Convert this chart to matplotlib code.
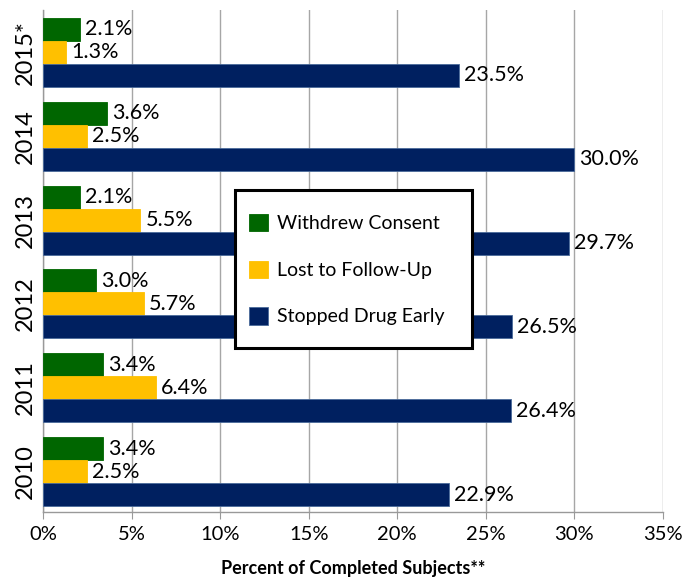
import matplotlib
matplotlib.use("Agg")
import matplotlib.pyplot as plt
import numpy as np
from matplotlib.ticker import FuncFormatter
from matplotlib.patches import Rectangle

years = ["2010", "2011", "2012", "2013", "2014", "2015*"]
withdrew = [3.4, 3.4, 3.0, 2.1, 3.6, 2.1]
lost = [2.5, 6.4, 5.7, 5.5, 2.5, 1.3]
stopped = [22.9, 26.4, 26.5, 29.7, 30.0, 23.5]
series_names = ["Withdrew Consent", "Lost to Follow-Up", "Stopped Drug Early"]
colors = ["#006600", "#FFC000", "#002060"]
xticks = [0, 5, 10, 15, 20, 25, 30, 35]

plt.rcParams['font.family'] = ['Lato', 'DejaVu Sans']

fig = plt.figure(figsize=(6.82, 5.81), dpi=100)
ax = fig.add_axes([43/682, 1-512/581, 620/682, 502/581])

y = np.arange(len(years))
h = 0.2745
offsets = [h, 0, -h]
vals = [withdrew, lost, stopped]
for s in range(3):
    bars = ax.barh(y + offsets[s], vals[s], height=h, color=colors[s],
                   edgecolor=colors[s] if s < 2 else "#4a6a9a", linewidth=0.6,
                   label=series_names[s], zorder=3)
    for b, v in zip(bars, vals[s]):
        ax.text(b.get_width() + 0.28, b.get_y() + b.get_height()/2, f"{v:.1f}%",
                va='center', ha='left', fontsize=15.5, zorder=4)

ax.set_xlim(0, 35)
ax.set_ylim(-0.483, 5.507)
ax.set_xticks(xticks)
ax.xaxis.set_major_formatter(FuncFormatter(lambda v, p: f"{v:.0f}%"))
ax.set_yticks(y)
ax.set_yticklabels(years, rotation=90, va='center', fontsize=17)
ax.tick_params(axis='x', labelsize=14.5, length=5, color='#999999', pad=5)
ax.tick_params(axis='y', length=0, pad=5)
ax.grid(axis='x', color='#a6a6a6', linewidth=1, zorder=0)
for sp in ['top', 'right']:
    ax.spines[sp].set_visible(False)
for sp in ['left', 'bottom']:
    ax.spines[sp].set_color('#999999')
    ax.spines[sp].set_linewidth(1)

ax.set_xlabel("Percent of Completed Subjects**", fontsize=13, fontweight='bold', labelpad=12)

frame = Rectangle((235/682, 1-348/581), 237/682, 158/581, transform=fig.transFigure,
                  facecolor='white', edgecolor='black', linewidth=2.2,
                  zorder=5, clip_on=False)
ax.add_patch(frame)

leg = ax.legend(loc='upper left', bbox_to_anchor=(249/682, 1-214/581),
                bbox_transform=fig.transFigure, fontsize=14,
                frameon=False, handlelength=1.0, handleheight=1.0,
                labelspacing=1.45, borderpad=0, handletextpad=0.45, borderaxespad=0)
leg.set_zorder(6)

fig.savefig("out.png", dpi=100)
